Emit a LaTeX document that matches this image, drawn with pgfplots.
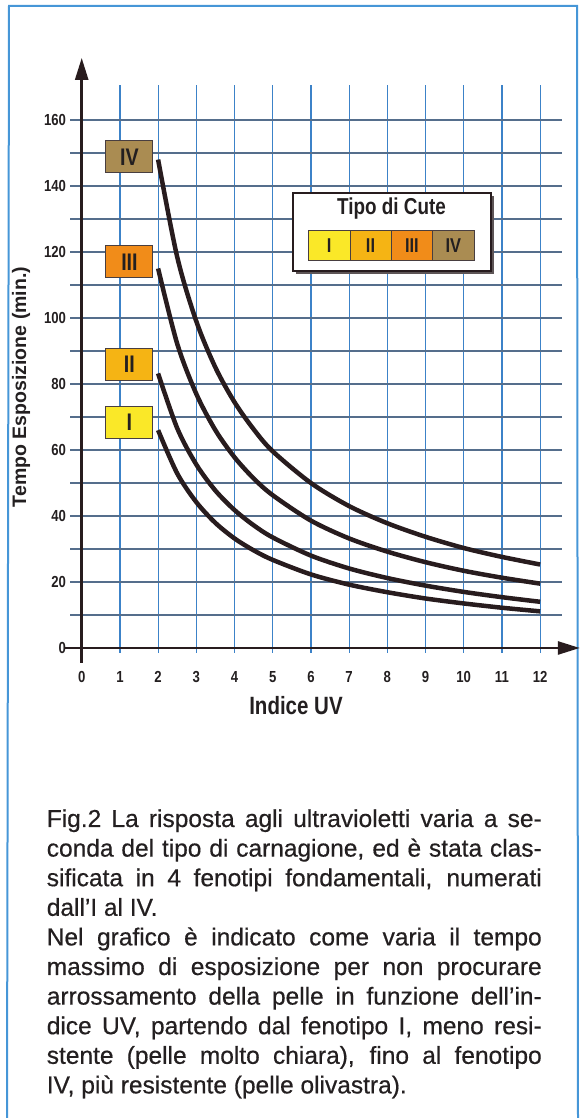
\documentclass[border=0pt]{standalone}
\usepackage{pgfplots}
\pgfplotsset{compat=1.18}
\usepackage{fontspec}
\setmainfont{Liberation Sans}
\newfontfamily\capfamily{Liberation Sans}[FakeBold=0.5]
\newfontfamily\condbf{Liberation Sans Bold}[FakeStretch=0.82]
\newfontfamily\sansbf{Liberation Sans Bold}
\usetikzlibrary{arrows.meta}
\definecolor{framecol}{RGB}{70,150,215}
\definecolor{vgrid}{RGB}{60,130,200}
\definecolor{hgrid}{RGB}{85,110,140}
\definecolor{ink}{RGB}{40,28,30}
\definecolor{cI}{RGB}{250,232,40}
\definecolor{cII}{RGB}{245,180,20}
\definecolor{cIII}{RGB}{241,140,25}
\definecolor{cIV}{RGB}{170,140,82}
\definecolor{txt}{RGB}{35,31,32}
\newcommand\tickfont{\condbf\fontsize{16bp}{16bp}\selectfont}
\newcommand\boxfont{\condbf\fontsize{24bp}{24bp}\selectfont}
\newcommand\capfont{\capfamily\fontsize{24.5bp}{29.6bp}\selectfont}
\begin{document}
\begin{tikzpicture}[x=1bp,y=1bp]
\path[use as bounding box] (0,0) rectangle (584,1118);
\draw[framecol, line width=2bp] (7,-3) -- (9,1112) -- (577,1112) -- (578,-3);
\begin{axis}[
  at={(70.24bp,465.05bp)}, anchor=south west,
  x=38.2bp, y=3.3bp,
  xmin=-0.3, xmax=12.58, ymin=-1.5, ymax=170.6,
  axis line style={draw=none},
  major tick length=0pt,
  xtick={0,...,12},
  ytick={0,10,...,160},
  yticklabels={0,,20,,40,,60,,80,,100,,120,,140,,160},
  xmajorgrids, ymajorgrids,
  major grid style={line width=1.2bp},
  x grid style={vgrid},
  y grid style={hgrid},
  ticklabel style={font=\tickfont, text=txt},
  xticklabel style={anchor=north, inner sep=0pt, yshift=-18bp},
  yticklabel style={anchor=east, inner sep=0pt, xshift=-4bp},
  clip=false,
  /pgf/number format/assume math mode=true,
]
\draw[ink, line width=2.6bp, -{Triangle[length=22bp,width=13bp]}] (axis cs:-0.44,0) -- (axis cs:13.04,0);
\draw[ink, line width=2.6bp, -{Triangle[length=22bp,width=13bp]}] (axis cs:0,-4.5) -- (axis cs:0,178.8);
% Tipo IV
\addplot[ink, line width=4.5bp, smooth] coordinates {
(2,148) (2.5,118.5) (3,99) (3.5,85) (4,74.5) (4.5,66.3) (5,59.6) (6,50) (7,43) (8,37.8) (9,33.7) (10,30.3) (11,27.6) (12,25.3)};
% Tipo III
\addplot[ink, line width=4.5bp, smooth] coordinates {
(2,115) (2.5,92.2) (3,77) (3.5,66) (4,57.8) (4.5,51.4) (5,46.3) (6,38.6) (7,33.2) (8,29.2) (9,26) (10,23.4) (11,21.3) (12,19.5)};
% Tipo II
\addplot[ink, line width=4.5bp, smooth] coordinates {
(2,83.2) (2.5,66.6) (3,55.6) (3.5,47.7) (4,41.8) (4.5,37.2) (5,33.5) (6,28) (7,24.1) (8,21.2) (9,18.9) (10,17) (11,15.4) (12,14)};
% Tipo I
\addplot[ink, line width=4.5bp, smooth] coordinates {
(2,66) (2.5,52.9) (3,44.2) (3.5,37.9) (4,33.2) (4.5,29.6) (5,26.7) (6,22.3) (7,19.2) (8,16.9) (9,15) (10,13.5) (11,12.2) (12,11.1)};
\node[draw=ink!85, line width=1bp, fill=cIV, minimum width=47bp, minimum height=32bp, inner sep=0pt, font=\boxfont, text=txt] at (axis cs:1.25,148.8) {IV};
\node[draw=ink!85, line width=1bp, fill=cIII, minimum width=47bp, minimum height=32bp, inner sep=0pt, font=\boxfont, text=txt] at (axis cs:1.25,117) {III};
\node[draw=ink!85, line width=1bp, fill=cII, minimum width=47bp, minimum height=32bp, inner sep=0pt, font=\boxfont, text=txt] at (axis cs:1.25,86) {II};
\node[draw=ink!85, line width=1bp, fill=cI, minimum width=47bp, minimum height=32bp, inner sep=0pt, font=\boxfont, text=txt] at (axis cs:1.25,68.3) {I};
\end{axis}
% legend
\fill[ink!75] (296,844) rectangle (494,922);
\draw[ink, line width=2.2bp, fill=white] (293,847) rectangle (491,925);
\node[font=\condbf\fontsize{23bp}{23bp}\selectfont, text=txt] at (391.5,909) {Tipo di Cute};
\draw[ink!85, line width=1bp, fill=cI] (308.3,857) rectangle (350,887);
\draw[ink!85, line width=1bp, fill=cII] (350,857) rectangle (391,887);
\draw[ink!85, line width=1bp, fill=cIII] (391,857) rectangle (432.7,887);
\draw[ink!85, line width=1bp, fill=cIV] (432.7,857) rectangle (474,887);
\node[font=\condbf\fontsize{20bp}{20bp}\selectfont, text=txt] at (329.15,872) {I};
\node[font=\condbf\fontsize{20bp}{20bp}\selectfont, text=txt] at (370.5,872) {II};
\node[font=\condbf\fontsize{20bp}{20bp}\selectfont, text=txt] at (411.85,872) {III};
\node[font=\condbf\fontsize{20bp}{20bp}\selectfont, text=txt] at (453.35,872) {IV};
% axis titles
\node[font=\condbf\fontsize{25bp}{25bp}\selectfont, text=txt] at (296,412) {Indice UV};
\node[font=\sansbf\fontsize{19.5bp}{19.5bp}\selectfont, text=txt, rotate=90] at (21,731) {Tempo Esposizione (min.)};
% caption
\begin{scope}[every node/.style={anchor=base west, inner sep=0pt, font=\capfont, text=txt}]
\node at (46.6,291) {\makebox[495bp][s]{Fig.2 La risposta agli ultravioletti varia a se-}};
\node at (46.6,261.4) {\makebox[495bp][s]{conda del tipo di carnagione, ed è stata clas-}};
\node at (46.6,231.8) {\makebox[495bp][s]{sificata in 4 fenotipi fondamentali, numerati}};
\node at (46.6,202.2) {dall’I al IV.};
\node at (46.6,172.6) {\makebox[495bp][s]{Nel grafico è indicato come varia il tempo}};
\node at (46.6,143) {\makebox[495bp][s]{massimo di esposizione per non procurare}};
\node at (46.6,113.4) {\makebox[495bp][s]{arrossamento della pelle in funzione dell’in-}};
\node at (46.6,83.8) {\makebox[495bp][s]{dice UV, partendo dal fenotipo I, meno resi-}};
\node at (46.6,54.2) {\makebox[495bp][s]{stente (pelle molto chiara), fino al fenotipo}};
\node at (46.6,24.6) {IV, più resistente (pelle olivastra).};
\end{scope}
\end{tikzpicture}
\end{document}
